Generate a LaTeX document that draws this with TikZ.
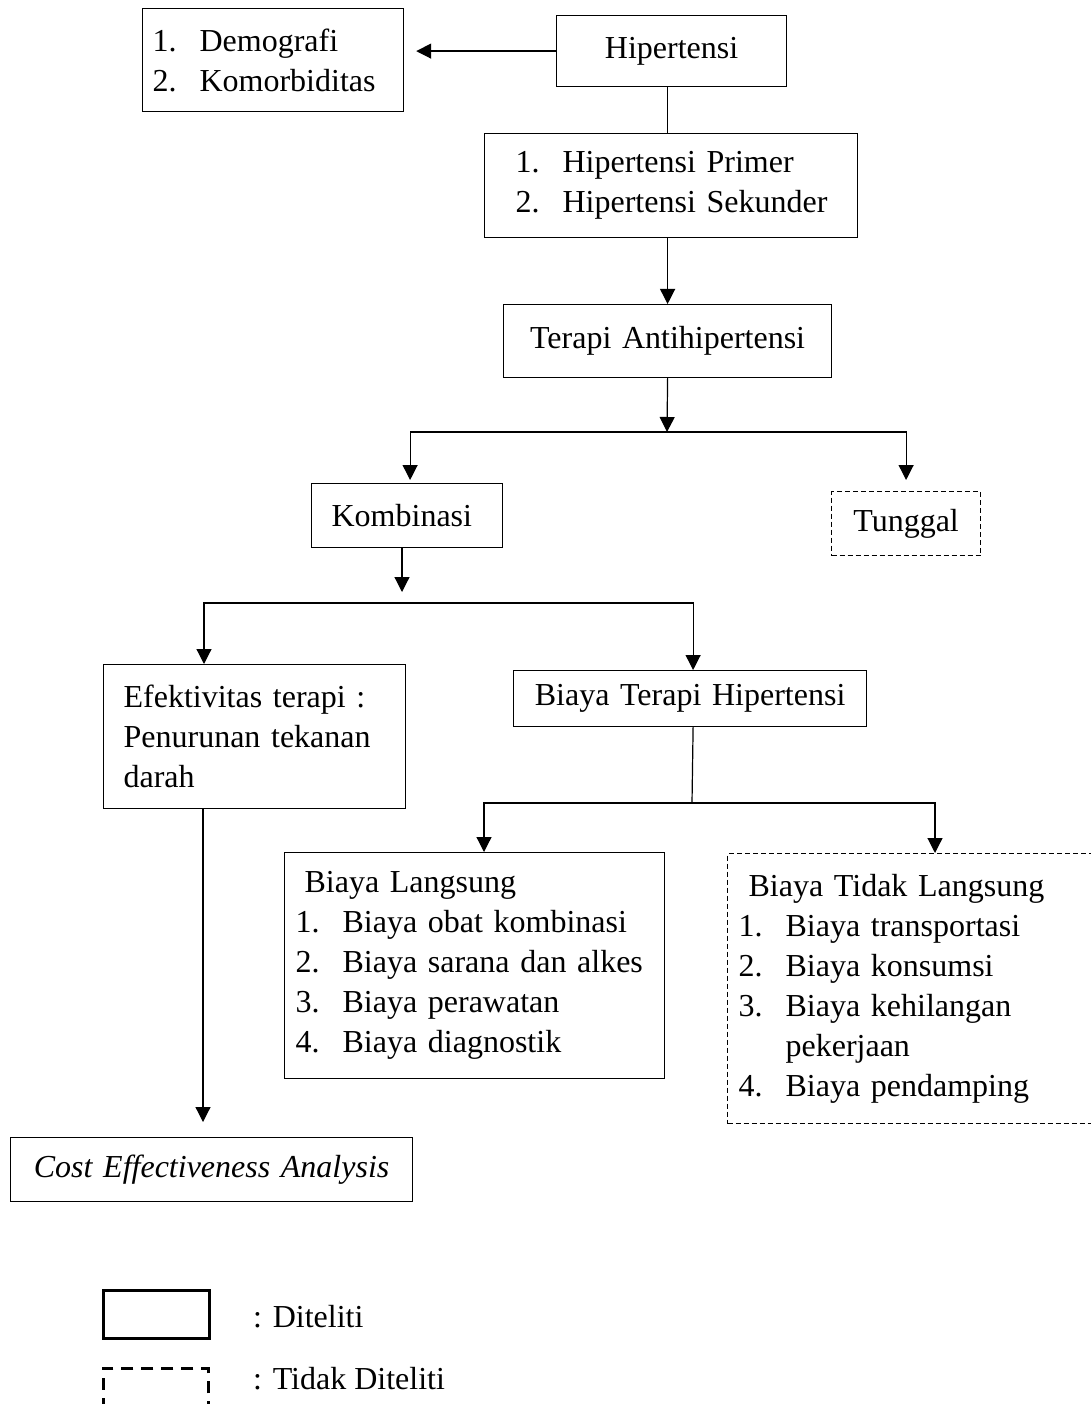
\documentclass[tikz,border=0pt]{standalone}
\usepackage{fontspec}
\setmainfont{Liberation Serif}
\usetikzlibrary{arrows.meta,calc}
\newcommand{\itm}[1]{\makebox[47pt][l]{#1}}
\newcommand{\pd}[1]{\hspace*{#1pt}}
\tikzset{
  box/.style={draw, line width=1.2pt, rectangle, anchor=north west, inner xsep=0pt, inner ysep=0pt,
    font=\fontsize{32}{40}\selectfont},
  dbox/.style={box, dash pattern=on 5pt off 3pt},
  arr/.style={-{Triangle[length=15pt,width=15pt]}, line width=1.2pt},
  ln/.style={line width=1.2pt},
  lbl/.style={anchor=base west, inner sep=0pt, font=\fontsize{32}{40}\selectfont},
}
\begin{document}
\begin{tikzpicture}[x=1pt,y=-1pt]
\useasboundingbox (0,0) rectangle (1090,1404);

\node[box, minimum width=261pt, minimum height=103pt, text width=261pt, align=left] (demo) at (142,8)
  {\pd{10}\itm{1.}Demografi\\\pd{10}\itm{2.}Komorbiditas};
\node[box, minimum width=230pt, minimum height=71pt, text width=230pt, align=center] (hip) at (556,15) {Hipertensi};
\node[box, minimum width=373pt, minimum height=104pt, text width=373pt, align=left] (prim) at (484,133)
  {\pd{31}\itm{1.}Hipertensi Primer\\\pd{31}\itm{2.}Hipertensi Sekunder};
\node[box, minimum width=328pt, minimum height=73pt, text width=328pt, align=center] (ter) at (503,304) {Terapi Antihipertensi};
\node[box, minimum width=191pt, minimum height=64pt, text width=191pt, align=left] (komb) at (311,483) {\pd{20}Kombinasi};
\node[dbox, minimum width=149pt, minimum height=64pt, text width=149pt, align=center] (tung) at (831,491) {Tunggal};
\node[box, minimum width=302pt, minimum height=144pt, text width=302pt, align=left] (efek) at (103,664)
  {\pd{20}Efektivitas terapi :\\\pd{20}Penurunan tekanan\\\pd{20}darah};
\node[box, minimum width=353pt, minimum height=56pt, text width=353pt, align=center] (biaya) at (513,670) {Biaya Terapi Hipertensi};
\node[box, minimum width=380pt, minimum height=226pt, text width=380pt, align=left] (bl) at (284,852)
  {\pd{20}Biaya Langsung\\
   \pd{11}\itm{1.}Biaya obat kombinasi\\
   \pd{11}\itm{2.}Biaya sarana dan alkes\\
   \pd{11}\itm{3.}Biaya perawatan\\
   \pd{11}\itm{4.}Biaya diagnostik};
\node[dbox, minimum width=368pt, minimum height=270pt, text width=368pt, align=left] (btl) at (727,853)
  {\pd{21}Biaya Tidak Langsung\\
   \pd{11}\itm{1.}Biaya transportasi\\
   \pd{11}\itm{2.}Biaya konsumsi\\
   \pd{11}\itm{3.}Biaya kehilangan\\
   \pd{58}pekerjaan\\
   \pd{11}\itm{4.}Biaya pendamping};
\node[box, minimum width=402pt, minimum height=64pt, text width=402pt, align=center] (cea) at (10,1137) {\itshape Cost Effectiveness Analysis};

% legend
\node[box, line width=2.5pt, minimum width=106pt, minimum height=48pt] (leg1) at (102,1289) {};
\node[box, line width=2.5pt, dash pattern=on 12pt off 8pt, minimum width=105pt, minimum height=60pt] (leg2) at (102,1367) {};
\node[lbl] (lab1) at (253,1327) {: Diteliti};
\node[lbl] (lab2) at (253,1389) {: Tidak Diteliti};

% connectors
\draw[arr] (hip.west) -- ([xshift=12pt]demo.east |- hip.west);
\draw[ln] ([xshift=-4pt]hip.south) -- ([xshift=-4pt]hip.south |- prim.north);
\draw[arr] (prim.south -| ter.north) -- (ter.north);
\coordinate (s1) at (667,432);
\draw[arr] (ter.south) -- (s1);
\draw[arr, shorten >=3pt] (s1) -| ([xshift=3pt]komb.north);
\draw[arr, shorten >=11pt] (s1) -| (tung.north);
\coordinate (s2) at (402,603);
\draw[arr, shorten >=11pt] (komb.south -| s2) -- (s2);
\draw[arr] (s2) -| ([xshift=101pt]efek.north west);
\draw[arr] (s2) -| ([xshift=3pt]biaya.north);
\coordinate (s3) at (692,803);
\draw[ln] ([xshift=3pt]biaya.south) -- (s3);
\draw[arr] (s3) -| ([xshift=200pt]bl.north west);
\draw[arr] (s3) -| ([xshift=208pt]btl.north west);
\draw[arr, shorten >=15pt] ([xshift=100pt]efek.south west) -- ([xshift=193pt]cea.north west);
\end{tikzpicture}
\end{document}
